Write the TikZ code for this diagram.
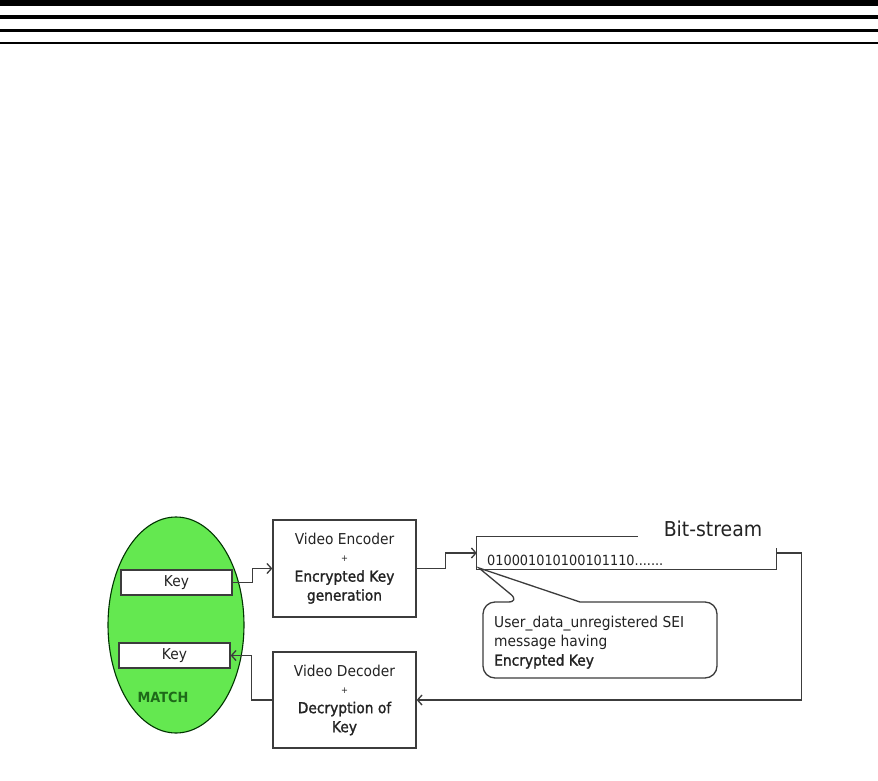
\documentclass[tikz,border=0pt]{standalone}
\usepackage{fontspec}
\setmainfont{DejaVu Sans}[FakeStretch=0.92]
\newfontfamily\semib{DejaVu Sans}[FakeStretch=0.92,FakeBold=1.4]
\usetikzlibrary{shapes.geometric,arrows.meta,calc}
\definecolor{ellgreen}{RGB}{100,232,80}
\definecolor{matchgreen}{RGB}{30,105,25}
\definecolor{linegray}{RGB}{60,60,60}
\definecolor{txtgray}{RGB}{35,35,35}
\begin{document}
\begin{tikzpicture}[x=1pt,y=-1pt,
  every node/.style={font=\fontsize{15}{19}\selectfont, text=txtgray},
  blk/.style={draw=linegray, line width=1.3pt, fill=white, align=center, inner sep=0pt},
  keybox/.style={draw=linegray, line width=1.3pt, fill=white, minimum width=111pt, minimum height=25pt, inner sep=0pt},
  conn/.style={draw=linegray, line width=1.3pt},
  arr/.style={conn, -{Straight Barb[length=4.5pt,width=10pt]}}
]
\useasboundingbox (0,0) rectangle (878,781);
\fill[white] (0,0) rectangle (878,781);
% top rules
\fill[black] (0,0) rectangle (878,6);
\fill[black] (0,15) rectangle (878,19);
\fill[black] (0,29) rectangle (878,32);
\fill[black] (0,42) rectangle (878,44);

% ellipse
\node[ellipse, draw=black!80!green, line width=1.1pt, fill=ellgreen, minimum width=136pt, minimum height=216pt, inner sep=0pt] (ell) at (176,625) {};
\node[keybox] (key1) at (176.5,582.5) {Key};
\node[keybox] (key2) at (174.5,655.5) {Key};
\node[font=\fontsize{14}{16}\bfseries, text=matchgreen] (match) at (163,697) {MATCH};

% encoder / decoder
\node[blk, minimum width=143pt, minimum height=97pt] (enc) at (344.5,568.5)
  {Video Encoder\\[-2pt]{\fontsize{9}{9}\selectfont +}\\[1pt]{\semib Encrypted Key}\\{\semib generation}};
\node[blk, minimum width=143pt, minimum height=96pt] (dec) at (344.5,700)
  {Video Decoder\\[-2pt]{\fontsize{9}{9}\selectfont +}\\[1pt]{\semib Decryption of}\\{\semib Key}};

% bit-stream box
\node[minimum width=299pt, minimum height=32pt, inner sep=0pt] (bs) at (626.5,553) {};
\draw[conn] (bs.north west) ++(161,0) -- (bs.north west) -- (bs.south west) -- (bs.south east) -- ++(0,-21);
\node[anchor=base, font=\fontsize{20.5}{22}\selectfont] (bslabel) at (713,536) {Bit-stream};
\node[anchor=base west, inner sep=0pt, font=\fontsize{14}{16}\selectfont] (bits) at (487,565) {010001010100101110.......};

% callout
\draw[conn, fill=white] (600,602) [rounded corners=12pt] -- (717,602) -- (717,678) -- (483,678) -- (483,602) -- (520,602) [sharp corners] -- (479,568) -- (580,602) -- cycle;
\node[anchor=north west, align=left, inner sep=0pt] (callout) at (494,616)
  {User\_data\_unregistered SEI\\message having\\{\semib Encrypted Key}};

% connectors
\draw[arr] (key1.east) -- ++(20,0) |- (enc.west);
\draw[arr] (enc.east) -- ++(29,0) |- (bs.west);
\draw[arr] (bs.east) -- ++(25,0) |- (dec.east);
\draw[arr] (dec.west) -- ++(-21,0) |- (key2.east);
\end{tikzpicture}
\end{document}
